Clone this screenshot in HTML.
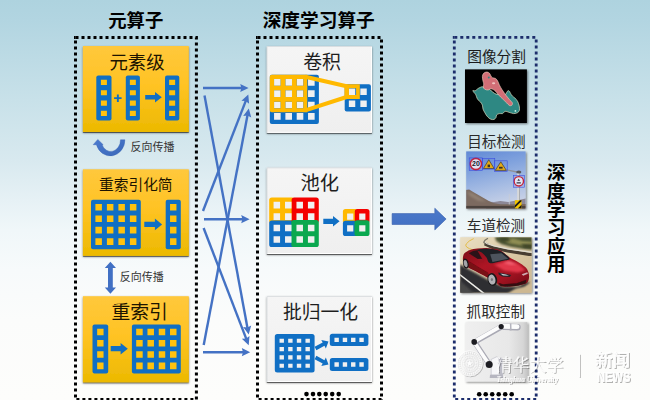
<!DOCTYPE html>
<html lang="zh-CN">
<head>
<meta charset="utf-8">
<title>元算子 / 深度学习算子 / 深度学习应用</title>
<style>
html,body{margin:0;padding:0;background:#fcfcfa;}
body{width:650px;height:400px;position:relative;overflow:hidden;font-family:"Liberation Sans","Noto Sans CJK SC",sans-serif;}
svg{position:absolute;left:0;top:0;display:block;}
svg text{font-family:"Liberation Sans","Noto Sans CJK SC",sans-serif;}
</style>
</head>
<body>
<svg width="650" height="400" viewBox="0 0 650 400">
<defs>
<linearGradient id="bg" x1="0" y1="0" x2="0" y2="1">
<stop offset="0" stop-color="#aed3df"/><stop offset="0.05" stop-color="#b2d5e1"/><stop offset="0.25" stop-color="#c8e1e9"/>
<stop offset="0.4" stop-color="#d8e9ef"/><stop offset="0.5" stop-color="#e6f1f5"/><stop offset="0.575" stop-color="#f0f7f9"/>
<stop offset="0.675" stop-color="#f7fafb"/><stop offset="0.8" stop-color="#fbfcfb"/><stop offset="1" stop-color="#fdfdfb"/>
</linearGradient>
<linearGradient id="yel" x1="0" y1="0" x2="0" y2="1">
<stop offset="0" stop-color="#ffc83c"/><stop offset="0.45" stop-color="#ffc324"/><stop offset="1" stop-color="#ecb900"/>
</linearGradient>
<linearGradient id="gry" x1="0" y1="0" x2="0" y2="1">
<stop offset="0" stop-color="#f5f5f5"/><stop offset="1" stop-color="#efefef"/>
</linearGradient>
<linearGradient id="arw" x1="0" y1="0" x2="0" y2="1">
<stop offset="0" stop-color="#4b79ca"/><stop offset="1" stop-color="#416fc2"/>
</linearGradient>
<filter id="sh" x="-10%" y="-10%" width="125%" height="125%">
<feGaussianBlur in="SourceAlpha" stdDeviation="1.25" result="b1"/><feOffset in="b1" dx="0.4" dy="1.0" result="o1"/>
<feComponentTransfer in="o1" result="s1"><feFuncA type="linear" slope="0.5"/></feComponentTransfer>
<feGaussianBlur in="SourceAlpha" stdDeviation="0.5" result="b2"/><feOffset in="b2" dx="0.2" dy="0.7" result="o2"/>
<feComponentTransfer in="o2" result="s2"><feFuncA type="linear" slope="0.45"/></feComponentTransfer>
<feMerge><feMergeNode in="s1"/><feMergeNode in="s2"/><feMergeNode in="SourceGraphic"/></feMerge>
</filter>
</defs>
<rect width="650" height="400" fill="url(#bg)"/>
<path d="M75.50 37.4H196.40V399.5H75.50V37.4" fill="none" stroke="#000" stroke-width="3.0" stroke-dasharray="3 3"/><path d="M74.00 37.4h1.6" stroke="#000" stroke-width="3.0"/>
<path d="M257.50 37.4H381.50V399.5H257.50V37.4" fill="none" stroke="#000" stroke-width="3.0" stroke-dasharray="3 3"/><path d="M256.00 37.4h1.6" stroke="#000" stroke-width="3.0"/>
<path d="M454.30 37.4H536.20V399.5H454.30V37.4" fill="none" stroke="#1c2d6b" stroke-width="2.8" stroke-dasharray="3 3"/><path d="M452.80 37.4h1.6" stroke="#1c2d6b" stroke-width="2.8"/>
<text x="108.2" y="27.4" font-size="18.4" font-weight="bold" fill="#000">元算子</text>
<text x="262.7" y="26.5" font-size="18.7" font-weight="bold" fill="#000">深度学习算子</text>
<rect x="82.9" y="46" width="105.9" height="86" fill="url(#yel)" filter="url(#sh)"/>
<rect x="82.9" y="169.3" width="105.9" height="86.6" fill="url(#yel)" filter="url(#sh)"/>
<rect x="82.9" y="296.2" width="105.9" height="86.10000000000002" fill="url(#yel)" filter="url(#sh)"/>
<rect x="266.8" y="46.2" width="105.2" height="86.6" fill="url(#gry)" filter="url(#sh)"/>
<path d="M267.2 132.3H371.5V46.6" fill="none" stroke="#fff" stroke-width="1"/>
<path d="M267.1 132.8V46.5H372" fill="none" stroke="#cfd4d6" stroke-width="0.6"/>
<rect x="266.8" y="167.6" width="105.2" height="86.4" fill="url(#gry)" filter="url(#sh)"/>
<path d="M267.2 253.5H371.5V168.0" fill="none" stroke="#fff" stroke-width="1"/>
<path d="M267.1 254.0V167.9H372" fill="none" stroke="#cfd4d6" stroke-width="0.6"/>
<rect x="266.8" y="296.2" width="105.2" height="85.8" fill="url(#gry)" filter="url(#sh)"/>
<path d="M267.2 381.5H371.5V296.6" fill="none" stroke="#fff" stroke-width="1"/>
<path d="M267.1 382.0V296.5H372" fill="none" stroke="#cfd4d6" stroke-width="0.6"/>
<text x="109.4" y="68.7" font-size="18.4" fill="#1c1400">元素级</text>
<text x="99.1" y="189.5" font-size="14.7" fill="#1c1400">重索引化简</text>
<text x="111.4" y="319" font-size="18.8" fill="#1c1400">重索引</text>
<text x="303.2" y="68.5" font-size="18.9" fill="#1e1e1e">卷积</text>
<text x="300.5" y="189.8" font-size="19.3" fill="#1e1e1e">池化</text>
<text x="282.9" y="319.3" font-size="18.8" fill="#1e1e1e">批归一化</text>
<text x="130.5" y="151.2" font-size="11" fill="#333">反向传播</text>
<text x="119.8" y="281.3" font-size="11" fill="#333">反向传播</text>
<text x="467.2" y="62.1" font-size="14.7" fill="#1a1a1a">图像分割</text>
<text x="467.2" y="146.6" font-size="14.6" fill="#2a2a2a">目标检测</text>
<text x="466.8" y="231.1" font-size="14.6" fill="#2a2a2a">车道检测</text>
<text x="466.6" y="317.1" font-size="14.6" fill="#2a2a2a">抓取控制</text>
<text font-size="18.4" font-weight="bold" fill="#000" text-anchor="middle"><tspan x="556.1" y="179.1">深</tspan><tspan x="556.1" y="197.55">度</tspan><tspan x="556.1" y="216">学</tspan><tspan x="556.1" y="234.45">习</tspan><tspan x="556.1" y="252.9">应</tspan><tspan x="556.1" y="271.35">用</tspan></text>
<rect x="96.30" y="75.40" width="15.20" height="45.00" rx="2" fill="#106fc4"/><path fill="#ffc20e" d="M100.90 79.85h6.0v5.2h-6.0zM100.90 90.15h6.0v5.2h-6.0zM100.90 100.45h6.0v5.2h-6.0zM100.90 110.75h6.0v5.2h-6.0z"/>
<rect x="125.80" y="75.40" width="14.10" height="45.00" rx="2" fill="#106fc4"/><path fill="#ffc20e" d="M129.85 79.85h6.0v5.2h-6.0zM129.85 90.15h6.0v5.2h-6.0zM129.85 100.45h6.0v5.2h-6.0zM129.85 110.75h6.0v5.2h-6.0z"/>
<rect x="165.00" y="75.40" width="14.30" height="45.00" rx="2" fill="#106fc4"/><path fill="#ffc20e" d="M169.15 79.85h6.0v5.2h-6.0zM169.15 90.15h6.0v5.2h-6.0zM169.15 100.45h6.0v5.2h-6.0zM169.15 110.75h6.0v5.2h-6.0z"/>
<path fill="#106fc4" d="M114.1 97.2h2.8v-2.8h1.9v2.8h2.8v1.9h-2.8v2.8h-1.9v-2.8h-2.8z"/>
<path fill="#106fc4" d="M145.2 94.9H155.0V92.0L161.8 97.2L155.0 102.4V99.5H145.2Z"/>
<rect x="91.00" y="199.70" width="49.80" height="49.50" rx="2" fill="#106fc4"/><path fill="#ffc20e" d="M95.40 204.01h6.5v6.6h-6.5zM95.40 215.44h6.5v6.6h-6.5zM95.40 226.86h6.5v6.6h-6.5zM95.40 238.29h6.5v6.6h-6.5zM106.90 204.01h6.5v6.6h-6.5zM106.90 215.44h6.5v6.6h-6.5zM106.90 226.86h6.5v6.6h-6.5zM106.90 238.29h6.5v6.6h-6.5zM118.40 204.01h6.5v6.6h-6.5zM118.40 215.44h6.5v6.6h-6.5zM118.40 226.86h6.5v6.6h-6.5zM118.40 238.29h6.5v6.6h-6.5zM129.90 204.01h6.5v6.6h-6.5zM129.90 215.44h6.5v6.6h-6.5zM129.90 226.86h6.5v6.6h-6.5zM129.90 238.29h6.5v6.6h-6.5z"/>
<rect x="165.70" y="199.70" width="15.10" height="49.50" rx="2" fill="#106fc4"/><path fill="#ffc20e" d="M170.05 204.01h6.4v6.6h-6.4zM170.05 215.44h6.4v6.6h-6.4zM170.05 226.86h6.4v6.6h-6.4zM170.05 238.29h6.4v6.6h-6.4z"/>
<path fill="#106fc4" d="M144.3 221.8H154.9V218.6L162.1 224.4L154.9 230.20000000000002V227.0H144.3Z"/>
<rect x="92.50" y="324.40" width="15.70" height="49.00" rx="2" fill="#106fc4"/><path fill="#ffc20e" d="M97.15 328.65h6.4v6.6h-6.4zM97.15 339.95h6.4v6.6h-6.4zM97.15 351.25h6.4v6.6h-6.4zM97.15 362.55h6.4v6.6h-6.4z"/>
<rect x="131.90" y="324.40" width="48.90" height="49.00" rx="2" fill="#106fc4"/><path fill="#ffc20e" d="M136.19 328.65h6.5v6.6h-6.5zM136.19 339.95h6.5v6.6h-6.5zM136.19 351.25h6.5v6.6h-6.5zM136.19 362.55h6.5v6.6h-6.5zM147.46 328.65h6.5v6.6h-6.5zM147.46 339.95h6.5v6.6h-6.5zM147.46 351.25h6.5v6.6h-6.5zM147.46 362.55h6.5v6.6h-6.5zM158.74 328.65h6.5v6.6h-6.5zM158.74 339.95h6.5v6.6h-6.5zM158.74 351.25h6.5v6.6h-6.5zM158.74 362.55h6.5v6.6h-6.5zM170.01 328.65h6.5v6.6h-6.5zM170.01 339.95h6.5v6.6h-6.5zM170.01 351.25h6.5v6.6h-6.5zM170.01 362.55h6.5v6.6h-6.5z"/>
<path fill="#106fc4" d="M110.7 346.09999999999997H120.6V342.9L127.8 348.7L120.6 354.5V351.3H110.7Z"/>
<defs><linearGradient id="arw2" x1="0" y1="0" x2="1" y2="1"><stop offset="0" stop-color="#4a7bd0"/><stop offset="1" stop-color="#3a67b8"/></linearGradient></defs>
<path fill="url(#arw2)" stroke="#3560b4" stroke-width="0.4" d="M124.9 139.8A14.6 16.1 0 0 1 96.4 144.7L93.2 144.7L97.8 139.4L103.2 144.7L102 144.7A9.7 11.7 0 0 0 120.5 139.8Z"/>
<path fill="#4170c4" d="M110.4 261.8L116 268H112.8V287.6H116L110.4 293.8L104.8 287.6H108V268H104.8Z"/>
<path d="M203.00 88.00L242.70 88.00" stroke="#4472c4" stroke-width="2.4" fill="none"/><path fill="#4472c4" d="M248.60 88.00L240.20 92.10L241.40 88.00L240.20 83.90Z"/>
<path d="M204.50 95.50L247.63 328.70" stroke="#4472c4" stroke-width="2.4" fill="none"/><path fill="#4472c4" d="M248.70 334.50L243.14 326.99L247.39 327.42L251.20 325.49Z"/>
<path d="M203.00 211.00L246.16 99.90" stroke="#4472c4" stroke-width="2.4" fill="none"/><path fill="#4472c4" d="M248.30 94.40L249.08 103.71L245.69 101.11L241.44 100.75Z"/>
<path d="M204.00 219.20L243.70 219.20" stroke="#4472c4" stroke-width="2.4" fill="none"/><path fill="#4472c4" d="M249.60 219.20L241.20 223.30L242.40 219.20L241.20 215.10Z"/>
<path d="M203.60 228.00L246.58 339.69" stroke="#4472c4" stroke-width="2.4" fill="none"/><path fill="#4472c4" d="M248.70 345.20L241.86 338.83L246.11 338.48L249.51 335.89Z"/>
<path d="M203.70 345.00L247.70 114.20" stroke="#4472c4" stroke-width="2.4" fill="none"/><path fill="#4472c4" d="M248.80 108.40L251.25 117.42L247.45 115.47L243.20 115.88Z"/>
<path d="M203.00 352.20L244.30 352.20" stroke="#4472c4" stroke-width="2.4" fill="none"/><path fill="#4472c4" d="M250.20 352.20L241.80 356.30L243.00 352.20L241.80 348.10Z"/>
<path fill="url(#arw)" stroke="#3a62ac" stroke-width="0.6" d="M392.1 213.6H434.8V208.2L446.1 219.05L434.8 229.9V224.5H392.1Z"/>
<circle cx="306.5" cy="394.1" r="2.3" fill="#000"/><circle cx="313" cy="394.1" r="2.3" fill="#000"/><circle cx="319.3" cy="394.1" r="2.3" fill="#000"/><circle cx="325.7" cy="394.1" r="2.3" fill="#000"/><circle cx="332.2" cy="394.1" r="2.3" fill="#000"/><circle cx="338.7" cy="394.1" r="2.3" fill="#000"/>
<circle cx="479.2" cy="394.3" r="2.3" fill="#000"/><circle cx="485.7" cy="394.3" r="2.3" fill="#000"/><circle cx="492.2" cy="394.3" r="2.3" fill="#000"/><circle cx="498.7" cy="394.3" r="2.3" fill="#000"/><circle cx="505.2" cy="394.3" r="2.3" fill="#000"/><circle cx="511.7" cy="394.3" r="2.3" fill="#000"/>
<rect x="269.80" y="74.80" width="49.10" height="49.10" rx="2" fill="#106fc4"/><path fill="#f0f0f0" d="M274.06 79.01h6.6v6.7h-6.6zM274.06 90.34h6.6v6.7h-6.6zM274.06 101.66h6.6v6.7h-6.6zM274.06 112.99h6.6v6.7h-6.6zM285.39 79.01h6.6v6.7h-6.6zM285.39 90.34h6.6v6.7h-6.6zM285.39 101.66h6.6v6.7h-6.6zM285.39 112.99h6.6v6.7h-6.6zM296.71 79.01h6.6v6.7h-6.6zM296.71 90.34h6.6v6.7h-6.6zM296.71 101.66h6.6v6.7h-6.6zM296.71 112.99h6.6v6.7h-6.6zM308.04 79.01h6.6v6.7h-6.6zM308.04 90.34h6.6v6.7h-6.6zM308.04 101.66h6.6v6.7h-6.6zM308.04 112.99h6.6v6.7h-6.6z"/>
<rect x="344.70" y="84.20" width="26.20" height="27.20" rx="2" fill="#106fc4"/><path fill="#f0f0f0" d="M348.85 88.50h6.4v6.6h-6.4zM348.85 100.50h6.4v6.6h-6.4zM360.35 88.50h6.4v6.6h-6.4zM360.35 100.50h6.4v6.6h-6.4z"/>
<path fill="#ffb900" fill-rule="evenodd" d="M269.80 76.80a2 2 0 0 1 2 -2H307.28V112.28H271.80a2 2 0 0 1 -2 -2ZM274.06 79.01v6.7h6.6v-6.7zM274.06 90.34v6.7h6.6v-6.7zM274.06 101.66v6.7h6.6v-6.7zM285.39 79.01v6.7h6.6v-6.7zM285.39 90.34v6.7h6.6v-6.7zM285.39 101.66v6.7h6.6v-6.7zM296.71 79.01v6.7h6.6v-6.7zM296.71 90.34v6.7h6.6v-6.7zM296.71 101.66v6.7h6.6v-6.7z"/>
<path fill="none" stroke="#ffb900" stroke-width="4" stroke-linejoin="round" d="M305.28 76.80L346.6 86.2V97L305.28 110.28"/>
<path fill="#ffb900" fill-rule="evenodd" d="M344.7 86.2a2 2 0 0 1 2 -2H359.8V99H346.7a2 2 0 0 1 -2 -2ZM348.9 88.3v6.8h7.2v-6.8z"/>
<rect x="269.20" y="197.50" width="25.40" height="26.00" rx="2.6" fill="#ffb900"/>
<rect x="269.20" y="220.50" width="25.40" height="26.60" rx="2.6" fill="#106fc4"/>
<rect x="291.60" y="197.50" width="27.20" height="25.50" rx="2.6" fill="#f40000"/>
<rect x="291.30" y="219.90" width="27.50" height="27.20" rx="2.6" fill="#0aa84f"/>
<path fill="#f0f0f0" d="M273.57 201.82h6.5v6.6h-6.5zM273.57 213.28h6.5v6.6h-6.5zM273.57 224.73h6.5v6.6h-6.5zM273.57 236.18h6.5v6.6h-6.5zM285.02 201.82h6.5v6.6h-6.5zM285.02 213.28h6.5v6.6h-6.5zM285.02 224.73h6.5v6.6h-6.5zM285.02 236.18h6.5v6.6h-6.5zM296.47 201.82h6.5v6.6h-6.5zM296.47 213.28h6.5v6.6h-6.5zM296.47 224.73h6.5v6.6h-6.5zM296.47 236.18h6.5v6.6h-6.5zM307.93 201.82h6.5v6.6h-6.5zM307.93 213.28h6.5v6.6h-6.5zM307.93 224.73h6.5v6.6h-6.5zM307.93 236.18h6.5v6.6h-6.5z"/>
<path fill="#106fc4" d="M323.3 218.70000000000002H333.0V216.0L339.6 221.3L333.0 226.60000000000002V223.9H323.3Z"/>
<rect x="342.90" y="208.90" width="14.90" height="14.90" rx="2.6" fill="#ffb900"/>
<rect x="342.90" y="220.80" width="14.90" height="15.20" rx="2.6" fill="#106fc4"/>
<rect x="354.80" y="208.90" width="14.70" height="14.40" rx="2.6" fill="#f40000"/>
<rect x="354.50" y="220.30" width="15.00" height="15.70" rx="2.6" fill="#0aa84f"/>
<path fill="#f0f0f0" d="M347.10 213.60h6.2v6.2h-6.2zM347.10 225.20h6.2v6.2h-6.2zM359.20 213.60h6.2v6.2h-6.2zM359.20 225.20h6.2v6.2h-6.2z"/>
<rect x="274.80" y="334.00" width="39.80" height="38.50" rx="2.5" fill="#106fc4"/><path fill="#f0f0f0" d="M279.53 338.66h4.4v4.2h-4.4zM279.53 346.99h4.4v4.2h-4.4zM279.53 355.31h4.4v4.2h-4.4zM279.53 363.64h4.4v4.2h-4.4zM288.18 338.66h4.4v4.2h-4.4zM288.18 346.99h4.4v4.2h-4.4zM288.18 355.31h4.4v4.2h-4.4zM288.18 363.64h4.4v4.2h-4.4zM296.83 338.66h4.4v4.2h-4.4zM296.83 346.99h4.4v4.2h-4.4zM296.83 355.31h4.4v4.2h-4.4zM296.83 363.64h4.4v4.2h-4.4zM305.48 338.66h4.4v4.2h-4.4zM305.48 346.99h4.4v4.2h-4.4zM305.48 355.31h4.4v4.2h-4.4zM305.48 363.64h4.4v4.2h-4.4z"/>
<rect x="329.80" y="333.70" width="38.60" height="12.40" rx="2.5" fill="#106fc4"/><path fill="#f0f0f0" d="M334.45 337.80h4.4v4.2h-4.4zM342.75 337.80h4.4v4.2h-4.4zM351.05 337.80h4.4v4.2h-4.4zM359.35 337.80h4.4v4.2h-4.4z"/>
<rect x="329.80" y="357.90" width="38.60" height="13.10" rx="2.5" fill="#106fc4"/><path fill="#f0f0f0" d="M334.45 362.25h4.4v4.4h-4.4zM342.75 362.25h4.4v4.4h-4.4zM351.05 362.25h4.4v4.4h-4.4zM359.35 362.25h4.4v4.4h-4.4z"/>
<path fill="#106fc4" d="M316.38 350.13L324.45 345.78L325.85 348.38L328.50 341.50L321.29 339.93L322.69 342.53L314.62 346.87Z"/>
<path fill="#106fc4" d="M314.62 359.13L322.69 363.47L321.29 366.07L328.50 364.50L325.85 357.62L324.45 360.22L316.38 355.87Z"/>
<defs>
<filter id="psh" x="-10%" y="-10%" width="125%" height="125%">
<feGaussianBlur in="SourceAlpha" stdDeviation="1.3"/><feOffset dx="1" dy="1.2"/>
<feComponentTransfer><feFuncA type="linear" slope="0.5"/></feComponentTransfer>
<feMerge><feMergeNode/><feMergeNode in="SourceGraphic"/></feMerge>
</filter>
<filter id="b1"><feGaussianBlur stdDeviation="0.5"/></filter>
<filter id="b2"><feGaussianBlur stdDeviation="0.9"/></filter>
<filter id="b3"><feGaussianBlur stdDeviation="1.6"/></filter>
</defs>
<rect x="465.0" y="69.4" width="61.89999999999998" height="53.599999999999994" fill="#000" filter="url(#psh)"/>
<g filter="url(#b1)"><path d="M472.9 90.5C473.1 90.3 474.5 91.0 475.2 90.8C475.9 90.6 476.4 89.8 477.2 89.2C477.9 88.7 478.8 87.9 479.8 87.6C480.7 87.2 481.4 86.6 483.0 86.9C484.6 87.2 487.3 88.3 489.5 89.5C491.7 90.7 493.4 93.2 496.0 94.1C498.6 94.9 503.3 94.9 505.1 94.4C507.0 94.0 506.4 92.2 507.1 91.6C507.7 91.0 508.4 90.5 509.0 90.8C509.6 91.1 510.0 92.5 510.6 93.4C511.1 94.3 511.5 95.2 512.3 96.0C513.0 96.8 514.0 97.1 514.9 98.0C515.7 98.8 516.7 99.9 517.5 101.2C518.2 102.5 518.8 104.2 519.2 105.8C519.5 107.3 519.7 109.2 519.4 110.3C519.1 111.5 518.4 112.1 517.5 112.7C516.5 113.2 515.0 113.6 513.6 113.6C512.2 113.5 510.4 112.6 509.0 112.3C507.6 111.9 506.2 111.1 505.1 111.4C504.0 111.6 503.5 113.2 502.5 113.6C501.5 113.9 500.2 113.3 499.3 113.6C498.3 113.8 497.2 114.2 496.7 114.9C496.1 115.5 496.4 116.7 496.0 117.5C495.6 118.2 494.9 119.1 494.1 119.4C493.2 119.7 491.9 119.6 490.8 119.2C489.7 118.7 488.5 117.9 487.6 116.8C486.6 115.8 485.7 114.2 485.0 112.9C484.2 111.6 483.4 110.3 483.0 109.0C482.6 107.7 482.8 106.3 482.4 105.1C481.9 103.9 481.2 102.8 480.4 101.9C479.6 100.9 478.5 100.5 477.8 99.6C477.2 98.8 476.9 97.6 476.5 96.7C476.1 95.7 475.9 94.8 475.5 94.1C475.0 93.3 474.3 93.0 473.9 92.4C473.5 91.8 472.6 90.8 472.9 90.5Z" fill="#2e8883" stroke="#d8dcc0" stroke-width="0.7"/><path d="M482.4 76.5C482.2 77.8 482.8 79.8 483.0 81.1C483.2 82.3 483.7 83.1 483.8 84.0C483.8 85.0 483.1 86.0 483.3 86.9C483.4 87.8 483.9 88.7 484.7 89.2C485.5 89.8 487.2 90.1 488.2 90.0C489.2 89.9 489.9 88.8 490.8 88.7C491.7 88.7 492.5 89.1 493.4 89.6C494.3 90.1 495.1 90.8 496.0 91.7C496.9 92.6 497.7 94.0 498.9 95.2C500.0 96.5 501.4 97.8 502.8 99.1C504.1 100.4 505.7 102.0 506.8 103.0C507.9 104.1 508.6 105.1 509.4 105.5C510.2 105.9 511.4 105.7 511.9 105.2C512.3 104.8 512.7 103.7 512.3 102.8C511.9 101.8 510.4 100.7 509.4 99.5C508.4 98.3 507.2 97.0 506.2 95.6C505.1 94.2 503.9 92.4 503.0 91.1C502.1 89.7 501.3 88.6 500.7 87.4C500.0 86.3 499.6 85.4 499.1 84.3C498.6 83.2 498.3 82.0 497.7 81.1C497.1 80.1 496.5 79.0 495.6 78.5C494.8 77.9 493.3 78.1 492.5 77.7C491.7 77.2 491.4 76.6 490.9 75.9C490.4 75.1 490.2 73.9 489.5 73.3C488.8 72.6 487.9 72.0 486.9 72.0C485.9 72.0 484.4 72.5 483.7 73.3C482.9 74.0 482.5 75.2 482.4 76.5Z" fill="#d26e76" stroke="#ecd2c0" stroke-width="0.6"/><circle cx="515.4" cy="110.9" r="0.9" fill="#d0f4e4"/><circle cx="488.8" cy="77.6" r="1.0" fill="#2e8883"/><ellipse cx="493.6" cy="83.2" rx="1.6" ry="1.0" fill="#f0c4c0"/></g>
<defs><linearGradient id="sky" x1="0" y1="0" x2="0.25" y2="1"><stop offset="0" stop-color="#6189d6"/><stop offset="0.35" stop-color="#80a2dd"/><stop offset="0.7" stop-color="#a6bce3"/><stop offset="1" stop-color="#c6d0e6"/></linearGradient><clipPath id="cdet"><rect x="466.2" y="151.4" width="59.400000000000034" height="57.19999999999999"/></clipPath></defs>
<rect x="466.2" y="151.4" width="59.400000000000034" height="57.19999999999999" fill="url(#sky)" filter="url(#psh)"/>
<g clip-path="url(#cdet)"><path d="M486.0 201.5L494.0 202.0L500.4 201.1L508.3 202.0L514.7 200.7L521.1 199.5L526.7 198.3L526.7 209.5L486.0 209.5Z" fill="#8d8896" filter="url(#b1)"/><path d="M465.2 189.9L469.2 189.6L473.2 192.0L478.0 194.7L483.6 197.9L488.4 200.7L493.2 203.1L500.4 204.3L509.9 204.3L526.7 203.9L526.7 210.3L465.2 210.3Z" fill="#7b6b60" filter="url(#b1)"/><path d="M466.8 192.0L471.6 192.7L479.6 197.5L486.0 201.5L478.0 200.7L470.0 195.9Z" fill="#9a8a7c" fill-opacity="0.7" filter="url(#b2)"/><rect x="466.2" y="205.9" width="59.400000000000034" height="4" fill="#4b423c" filter="url(#b1)"/><rect x="508.8" y="194" width="0.8" height="10.5" fill="#c9ccd4"/><rect x="517.1" y="172" width="2.7" height="37" fill="#d6d8da"/><rect x="519.2" y="172" width="0.7" height="37" fill="#9a9ca0"/><path d="M506.8 169.2L518 171.6V173L506.8 170.6Z" fill="#8f9094"/><ellipse cx="518.8" cy="172" rx="2.6" ry="1.6" fill="#5a5a5e"/><rect x="514.9" y="200.2" width="6.6" height="8.6" fill="#f2c400"/><path d="M514.9 205.2L519.9 200.2H521.5V201.2L514.9 207.8ZM517.5 208.8L521.5 204.8V207.4L520.1 208.8Z" fill="#1a1a1a"/><circle cx="475.9" cy="164" r="5.6" fill="#f4f4f4" stroke="#d4202a" stroke-width="1.6"/><text x="475.9" y="166.4" font-size="7" font-weight="bold" text-anchor="middle" fill="#111">20</text><path d="M488.8 159.7L494.2 168.5H483.4Z" fill="#f5b400" stroke="#2a2410" stroke-width="0.6" stroke-linejoin="round"/><rect x="487.6" y="164.6" width="2.4" height="2.6" fill="#3a2f10"/><path d="M500.8 161.8L506.4 170.4H495.2Z" fill="#f5b400" stroke="#2a2410" stroke-width="0.6" stroke-linejoin="round"/><rect x="499" y="166.8" width="3.6" height="1.8" fill="#3a2f10"/><circle cx="518.8" cy="181.3" r="4.7" fill="#f4f4f4" stroke="#d4202a" stroke-width="1.4"/><path d="M516.6 183.4h4.2v-1.2h-4.2zM517.4 180.8l1.3-2l1.3 2z" fill="#333"/><rect x="469.2" y="157.9" width="13.3" height="12.5" fill="#3a4fe0" fill-opacity="0.10" stroke="#3848e0" stroke-width="0.55"/><rect x="482.5" y="158.4" width="12.3" height="10.7" fill="#3a4fe0" fill-opacity="0.10" stroke="#3848e0" stroke-width="0.55"/><rect x="494.4" y="160.8" width="12.8" height="10.7" fill="#3a4fe0" fill-opacity="0.10" stroke="#3848e0" stroke-width="0.55"/><rect x="513.5" y="175.5" width="10.8" height="11.7" fill="#3a4fe0" fill-opacity="0.10" stroke="#3848e0" stroke-width="0.55"/></g>
<defs><linearGradient id="carR" x1="0" y1="0" x2="1" y2="1"><stop offset="0" stop-color="#7c0c17"/><stop offset="0.4" stop-color="#ae1524"/><stop offset="0.7" stop-color="#a21321"/><stop offset="1" stop-color="#700a15"/></linearGradient><linearGradient id="road" x1="0" y1="0" x2="1" y2="1"><stop offset="0" stop-color="#eadfc4"/><stop offset="0.45" stop-color="#dccba8"/><stop offset="1" stop-color="#c9b48e"/></linearGradient><clipPath id="ccar"><rect x="460.2" y="237.2" width="71.4" height="55.6"/></clipPath></defs>
<rect x="460.2" y="237.2" width="71.4" height="55.6" fill="url(#road)" filter="url(#psh)"/>
<g clip-path="url(#ccar)"><path d="M494.7 236.5L533.0 236.5L533.0 250.0L522.5 248.8L510.5 246.7L501.5 244.3L496.2 241.0Z" fill="#4c5330" filter="url(#b2)"/><path d="M503.0 239.5L513.5 238.3L522.5 241.0L532.2 241.7L532.2 246.2L521.0 245.5L509.0 243.2Z" fill="#8f8d52" filter="url(#b2)"/><path d="M498.5 237.2L507.5 237.2L510.5 241.0L503.0 241.7Z" fill="#3c4426" filter="url(#b2)"/><path d="M521.0 244.0L532.2 244.3L532.2 248.2L524.0 247.7Z" fill="#3f4528" filter="url(#b2)"/><path d="M484.7 243.7L492.5 247.6L507.5 250.9L532.2 254.8" fill="none" stroke="#463e30" stroke-width="3.2" filter="url(#b1)"/><path d="M483.8 241.3L487.2 243.7L494.0 245.8L507.5 248.8L532.2 252.4" fill="none" stroke="#dedbd0" stroke-width="1.2" filter="url(#b1)"/><path d="M488.0 238.3L485.0 240.2L483.8 242.2L485.3 244.3" fill="none" stroke="#7d7868" stroke-width="1.3" filter="url(#b1)"/><path d="M473.7 238.6Q468.5 240.7 466.2 244.0T473.3 250.0" fill="none" stroke="#e2b93a" stroke-width="0.9"/><path d="M459.5 264.2L464.0 266.8L476.0 273.2L488.0 280.0L503.0 286.7L518.0 286.7L527.7 281.8L530.0 282.7L524.0 287.2L515.0 289.3L507.5 293.8L459.5 293.8Z" fill="#2f2f32" filter="url(#b2)"/><path d="M459.5 280.0L474.5 293.8L459.5 293.8Z" fill="#48484a" filter="url(#b2)"/><path d="M508.2 293.8L517.2 289.3L525.5 287.2L532.2 283.0L532.2 293.8Z" fill="#cdb892" filter="url(#b2)"/><path d="M459.5 273.4L485.3 293.5L482.7 293.5L459.5 275.2Z" fill="#f0efea" filter="url(#b1)"/><path d="M463.2 256.0C463.5 254.9 463.6 254.0 464.7 253.0C465.9 252.0 467.9 250.7 470.0 250.0C472.1 249.2 474.7 248.8 477.5 248.5C480.2 248.2 483.5 247.9 486.5 248.0C489.5 248.1 492.9 248.6 495.5 249.1C498.0 249.6 499.4 249.8 501.8 251.2C504.1 252.6 507.0 255.7 509.7 257.5C512.4 259.3 515.3 260.4 518.0 262.0C520.6 263.6 523.7 265.5 525.5 267.2C527.2 269.0 527.9 270.6 528.5 272.5C529.0 274.3 529.3 276.7 528.9 278.5C528.6 280.3 528.2 282.1 526.4 283.3C524.5 284.4 521.1 285.0 518.0 285.5C514.8 286.1 510.3 286.5 507.5 286.6C504.6 286.7 502.4 286.6 500.7 286.1C499.0 285.6 498.5 284.7 497.3 283.7C496.0 282.7 494.8 281.0 493.2 280.0C491.7 279.0 490.1 278.8 488.0 277.7C485.9 276.7 483.0 275.0 480.5 273.7C478.0 272.4 475.0 270.8 473.0 269.8C471.0 268.7 470.0 268.4 468.5 267.4C467.0 266.3 464.9 264.8 464.0 263.5C463.1 262.2 463.1 261.0 462.9 259.7C462.8 258.5 462.9 257.1 463.2 256.0Z" fill="url(#carR)"/><path d="M463.7 257.5L469.2 261.2L479.0 267.2L488.0 272.5L490.2 278.5L480.5 273.7L468.5 267.4L463.7 262.7Z" fill="#6a0912" fill-opacity="0.75" filter="url(#b1)"/><path d="M494.0 264.7L507.5 260.8L518.7 264.2L525.5 270.2L518.0 272.5L504.5 270.7Z" fill="#e83a4c" fill-opacity="0.9" filter="url(#b2)"/><path d="M503.0 262.7L509.7 260.8L517.2 264.2L510.5 265.0Z" fill="#ff8090" fill-opacity="0.55" filter="url(#b2)"/><path d="M477.2 250.0C477.9 249.3 483.4 248.8 486.5 248.8C489.5 248.7 492.9 249.2 495.5 249.7C498.0 250.2 499.4 250.3 501.8 251.8C504.1 253.3 509.5 257.2 509.7 258.7C509.9 260.2 506.2 260.0 503.0 260.8C499.7 261.5 493.0 263.7 490.2 263.2C487.5 262.6 487.9 259.2 486.5 257.5C485.1 255.7 483.5 253.9 482.0 252.7C480.4 251.4 476.4 250.6 477.2 250.0Z" fill="#1d2025"/><path d="M490.2 254.2L501.5 253.3L508.2 258.7L492.5 262.0Z" fill="#7c8893" fill-opacity="0.5" filter="url(#b1)"/><path d="M468.8 253.3L473.0 250.9L477.2 250.3L482.7 259.7L480.5 260.8L473.0 256.0Z" fill="#2b1218"/><path d="M477.2 259.0L482.7 258.7L483.8 262.0L479.0 262.7Z" fill="#a01422"/><path d="M498.2 282.7L503.0 284.2L516.5 283.3L526.2 279.7L525.8 283.3L518.0 285.7L507.5 286.7L500.7 286.3Z" fill="#260a0e" fill-opacity="0.85" filter="url(#b1)"/><path d="M498.2 272.5L503.7 273.4L511.2 274.9L509.7 277.0L502.2 276.4L498.8 274.6Z" fill="#25252c"/><path d="M500.3 273.5L506.0 274.4L509.0 275.8L503.0 275.5Z" fill="#e0e4ea" fill-opacity="0.85"/><path d="M521.7 274.3L527.3 272.2L527.9 273.7L523.2 275.8Z" fill="#e8e8ec" fill-opacity="0.7" filter="url(#b1)"/><ellipse cx="492.3" cy="279.5" rx="4.8" ry="6.5" fill="#18181a" transform="rotate(-14 492.3 279.5)"/><ellipse cx="491.9" cy="279.5" rx="3.5" ry="5.1" fill="#b2b2b6" transform="rotate(-14 492.3 279.5)"/><ellipse cx="491.9" cy="279.5" rx="1.1" ry="1.6" fill="#77777c"/><ellipse cx="465.8" cy="263.6" rx="2.7" ry="4.9" fill="#18181a" transform="rotate(-12 465.8 263.6)"/><ellipse cx="465.6" cy="263.6" rx="1.8" ry="3.7" fill="#a4a4a8" transform="rotate(-12 465.8 263.6)"/></g>
<defs><linearGradient id="rbg" x1="0" y1="0" x2="1" y2="0"><stop offset="0" stop-color="#efefef"/><stop offset="0.7" stop-color="#e8e8e8"/><stop offset="0.93" stop-color="#d6d6d6"/><stop offset="1" stop-color="#c4c4c4"/></linearGradient></defs>
<rect x="465.5" y="322.2" width="61.9" height="59.4" fill="url(#rbg)" filter="url(#psh)"/>
<g filter="url(#b1)"><path d="M491.2 359.4L496.8 356.7L502.4 358.4L502.8 375.1L491.2 375.1Z" fill="#f7f7f9" stroke="#b0b0ba" stroke-width="0.5"/><path d="M498.5 357.7L502.4 358.4L502.8 375.1L499.4 375.1Z" fill="#bcbcc6"/><path d="M490.0 374.7L502.8 374.7L503.1 378.0L489.7 378.0Z" fill="#b6b6c0"/><path d="M475.6 343.6L488.8 363.5" stroke="#a9a9b4" stroke-width="5.4" stroke-linecap="round"/><path d="M475.1 343.4L488.3 363.3" stroke="#fcfcfc" stroke-width="3.7" stroke-linecap="round"/><path d="M474.9 341.9L501.1 327.0" stroke="#a9a9b4" stroke-width="5.6" stroke-linecap="round"/><path d="M474.6 341.4L500.7 326.4" stroke="#fcfcfc" stroke-width="3.8999999999999995" stroke-linecap="round"/><path d="M504.5 326.8L517.4 327.2" stroke="#a9a9b4" stroke-width="6.6" stroke-linecap="round"/><path d="M504.1 326.3L517.0 326.6" stroke="#fcfcfc" stroke-width="4.8999999999999995" stroke-linecap="round"/><path d="M509.9 323.6L511.4 323.6L511.6 330.6L510.1 330.6Z" fill="#b4b4be"/><circle cx="501.2" cy="326.6" r="2.6" fill="#1d1d21"/><circle cx="474.2" cy="341.9" r="2.8" fill="#1d1d21"/><circle cx="489.2" cy="364.5" r="3.5" fill="#1d1d21"/></g>
<defs><filter id="wsh" x="-5%" y="-10%" width="110%" height="125%"><feGaussianBlur in="SourceAlpha" stdDeviation="0.45" result="b"/><feOffset in="b" dx="0.5" dy="0.6" result="o"/><feComponentTransfer in="o" result="s"><feFuncA type="linear" slope="0.33"/></feComponentTransfer><feMerge><feMergeNode in="s"/><feMergeNode in="SourceGraphic"/></feMerge></filter></defs>
<g filter="url(#wsh)" fill="#fff" fill-opacity="0.9"><g fill="none" stroke="#fff" stroke-opacity="0.7"><circle cx="469.6" cy="363.2" r="12.6" stroke-width="0.9"/><circle cx="469.6" cy="363.2" r="10.6" stroke-width="1.6" stroke-dasharray="1.1 0.9"/><circle cx="469.6" cy="363.2" r="8.2" stroke-width="0.7"/><circle cx="469.6" cy="363.2" r="6.3" stroke-width="1.5" stroke-dasharray="0.9 0.8"/><circle cx="469.6" cy="363.2" r="3.6" stroke-width="0.8"/></g><circle cx="469.6" cy="363.2" r="12.6" fill="#fff" fill-opacity="0.28"/><path d="M469.6 360.0l0.9 2.2 2.3 0.2-1.8 1.5 0.6 2.3-2-1.3-2 1.3 0.6-2.3-1.8-1.5 2.3-0.2z"/><text x="495.6" y="371" font-size="17" style="font-family:'Liberation Serif','Noto Serif CJK SC',serif">清华大学</text><rect x="578.8" y="353.8" width="1.1" height="23.2" fill-opacity="0.8"/><text x="594.9" y="365.8" font-size="17.6" font-weight="bold">新闻</text></g>
<g filter="url(#wsh)" fill="#fff"><text x="496.4" y="381.8" font-size="7.4" font-weight="bold" font-style="italic" fill-opacity="0.9" style="font-family:'Liberation Serif',serif">Tsinghua University</text><text x="597" y="381.5" font-size="14.4" font-weight="bold" fill-opacity="0.92" textLength="33.4" lengthAdjust="spacingAndGlyphs" style="font-family:'Liberation Sans',sans-serif">NEWS</text></g>
</svg>
</body>
</html>
